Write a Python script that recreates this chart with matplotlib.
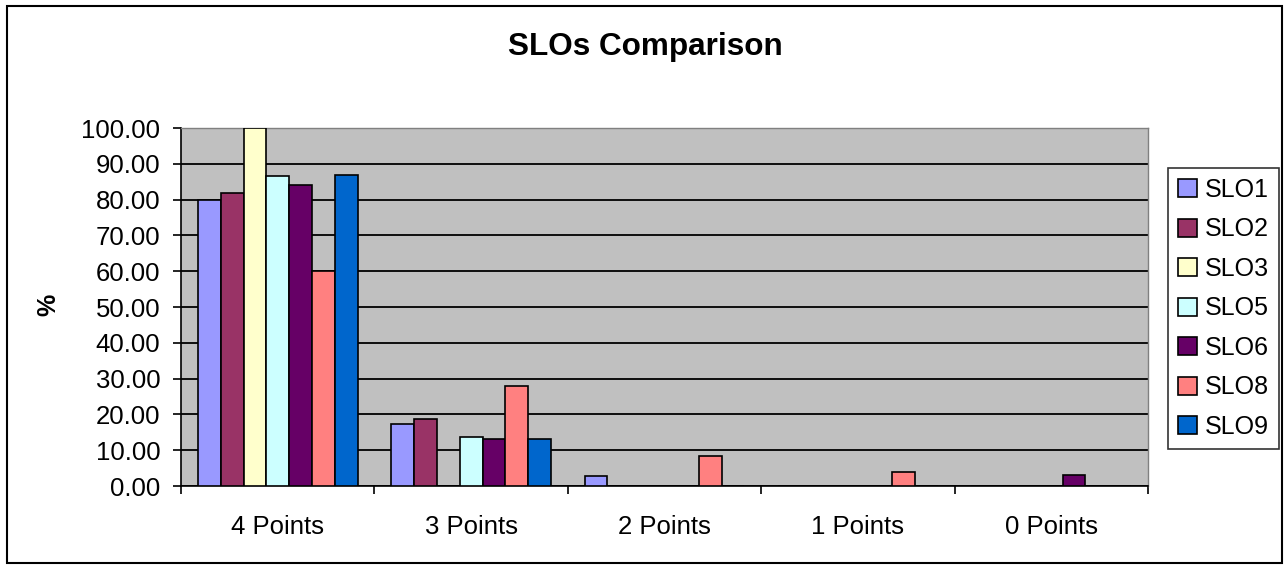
import numpy as np
import matplotlib.pyplot as plt
from matplotlib.patches import Rectangle
from matplotlib.ticker import FixedLocator, FormatStrFormatter

plt.rcParams['font.family'] = ['Liberation Sans', 'DejaVu Sans']

categories = ['4 Points', '3 Points', '2 Points', '1 Points', '0 Points']
series_names = ['SLO1', 'SLO2', 'SLO3', 'SLO5', 'SLO6', 'SLO8', 'SLO9']
slo1 = [80.0, 17.2, 2.7, 0.0, 0.0]
slo2 = [81.8, 18.6, 0.0, 0.0, 0.0]
slo3 = [100.0, 0.0, 0.0, 0.0, 0.0]
slo5 = [86.6, 13.6, 0.0, 0.0, 0.0]
slo6 = [84.0, 13.1, 0.0, 0.0, 3.1]
slo8 = [60.0, 28.0, 8.3, 4.0, 0.0]
slo9 = [87.0, 13.1, 0.0, 0.0, 0.0]
colors = ['#9999FF', '#993366', '#FFFFCC', '#CCFFFF', '#660066', '#FF8080', '#0066CC']

series = [slo1, slo2, slo3, slo5, slo6, slo8, slo9]

fig = plt.figure(figsize=(12.84, 5.65), dpi=100)
# outer chart border
fig.patches.append(Rectangle((6.5 / 1284, 2.0 / 565), 1275.5 / 1284, 557.5 / 565,
                             transform=fig.transFigure, fill=False,
                             edgecolor='black', linewidth=1.5))
ax = fig.add_axes([0.141, 0.1398, 0.753, 0.6336])
ax.set_facecolor('#C0C0C0')

x = np.arange(len(categories))
width = 0.118
n = len(series)
for i, (vals, name, c) in enumerate(zip(series, series_names, colors)):
    offs = (i - (n - 1) / 2) * width
    ax.bar(x + offs, vals, width, color=c, edgecolor='black', linewidth=1.2,
           label=name, zorder=3)

ax.set_xlim(-0.5, len(categories) - 0.5)
ax.set_ylim(0, 100)
ax.set_yticks(np.arange(0, 101, 10))
ax.yaxis.set_major_formatter(FormatStrFormatter('%.2f'))
ax.yaxis.grid(True, color='black', linewidth=1.3, zorder=1)
ax.set_axisbelow(True)

ax.set_xticks(x)
ax.set_xticklabels(categories)
ax.xaxis.set_minor_locator(FixedLocator(np.arange(-0.5, len(categories), 1.0)))
ax.tick_params(axis='x', which='major', length=0, pad=21, labelsize=18.5)
ax.tick_params(axis='x', which='minor', length=5.5, width=1.2, direction='out')
ax.tick_params(axis='y', length=6, width=1.2, direction='out', labelsize=18.5, pad=9)

for side in ['top', 'right']:
    ax.spines[side].set_color('#808080')
    ax.spines[side].set_linewidth(1.0)
ax.spines['left'].set_linewidth(1.2)
ax.spines['bottom'].set_linewidth(1.2)

fig.text(48 / 1284, 1 - 305 / 565, '%', rotation=90, ha='center', va='center',
         fontsize=18, fontweight='bold')
fig.text(645 / 1284, 1 - 46.5 / 565, 'SLOs Comparison', ha='center', va='center',
         fontsize=22.7, fontweight='bold')

leg = ax.legend(loc='center left', bbox_to_anchor=(1.0207, 0.496), frameon=True,
                fancybox=False, edgecolor='black', fontsize=18,
                handlelength=0.76, handleheight=0.76, handletextpad=0.32,
                labelspacing=0.62, borderpad=0.4, borderaxespad=0)
leg.get_frame().set_linewidth(1.2)

fig.savefig('out.png', dpi=100)
